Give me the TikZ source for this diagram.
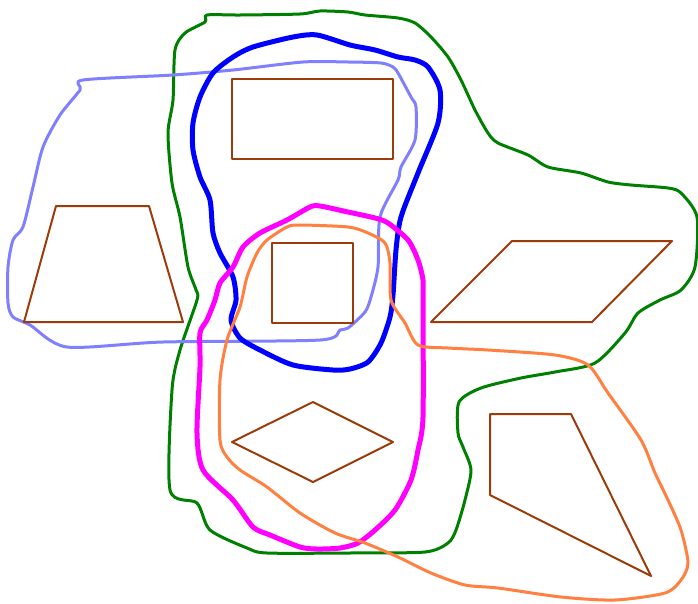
\documentclass[tikz,border=0pt]{standalone}
\definecolor{setgreen}{RGB}{0,128,0}
\definecolor{setblue}{RGB}{0,0,255}
\definecolor{setlight}{RGB}{128,128,255}
\definecolor{setpink}{RGB}{255,0,255}
\definecolor{setorange}{RGB}{255,128,64}
\definecolor{shapebrown}{RGB}{155,60,10}
\begin{document}
\begin{tikzpicture}[x=1pt, y=-1pt, line join=round,
  figure/.style={draw=shapebrown, line width=2pt}]
\useasboundingbox (0,0) rectangle (698,603);
% sets
\draw[setgreen, line width=3pt] plot[smooth cycle, tension=0.45] coordinates {
  (207,15) (240,15) (300,14) (320,11) (348,12) (365,15) (398,18) (415,23) (431,37)
  (448,57) (461,80) (475,110) (488,133) (498,143) (528,155) (548,167) (581,173)
  (608,182) (631,185) (668,188) (681,193) (697,217) (695,267) (681,290) (660,300)
  (638,313) (625,333) (595,363) (555,372) (521,378) (481,388) (459,402) (458,433)
  (463,447) (471,470) (465,500) (456,530) (448,543) (425,552) (348,553) (267,553)
  (247,548) (210,530) (197,503) (170,490) (172,390) (180,350) (197,300) (196,290)
  (188,267) (180,217) (172,183) (168,133) (173,100) (175,50) (185,33) (205,22)};
\draw[setlight, line width=3pt] plot[smooth cycle, tension=0.45] coordinates {
  (83,80) (80,90) (60,115) (43,147) (33,187) (23,227) (13,240) (8,267) (8,303)
  (13,317) (30,325) (67,347) (163,342) (320,340) (340,330) (348,328) (365,312)
  (371,297) (378,267) (380,217) (398,180) (401,167) (415,140) (416,107) (411,97)
  (398,73) (393,67) (381,63) (348,62) (303,62) (233,70) (173,75)};
\draw[setblue, line width=5pt] plot[smooth cycle, tension=0.45] coordinates {
  (350,45) (317,35) (293,37) (253,47) (233,57) (213,73) (200,97) (193,123)
  (193,150) (200,177) (210,200) (213,233) (220,253) (233,277) (236,300)
  (231,320) (240,338) (260,350) (293,365) (333,370) (350,369) (368,362)
  (381,343) (390,317) (393,295) (396,250) (401,217) (418,173) (438,123)
  (440,90) (428,67) (415,60) (398,57) (375,50)};
\draw[setpink, line width=5pt] plot[smooth cycle, tension=0.45] coordinates {
  (220,283) (233,267) (243,247) (260,233) (287,220) (310,207) (320,206)
  (348,212) (375,218) (388,223) (408,240) (418,260) (423,280) (423,300)
  (423,417) (418,450) (411,480) (395,510) (375,530) (358,543) (340,548)
  (317,549) (300,547) (270,535) (253,527) (233,500) (203,470) (197,433)
  (200,367) (200,333) (207,320) (215,300)};
\draw[setorange, line width=3pt] plot[smooth cycle, tension=0.45] coordinates {
  (247,277) (257,253) (267,240) (287,227) (300,225) (348,227) (368,233)
  (385,243) (390,263) (391,300) (405,323) (418,345) (448,348) (488,350)
  (555,355) (588,365) (608,393) (641,440) (655,473) (668,500) (681,530)
  (688,563) (681,580) (665,593) (615,600) (561,597) (498,588) (465,585)
  (431,573) (398,557) (365,543) (335,533) (300,513) (267,487) (240,470)
  (227,457) (220,440) (220,380) (227,340) (240,307)};
% figures
\draw[figure] (232,79) rectangle (393,159);
\draw[figure] (56,206) -- (149,206) -- (183,322) -- (24,322) -- cycle;
\draw[figure] (272,243) rectangle (353,323);
\draw[figure] (512,241) -- (672,241) -- (592,322) -- (431,322) -- cycle;
\draw[figure] (232,442) -- (313,402) -- (393,442) -- (313,482) -- cycle;
\draw[figure] (490,414) -- (571,414) -- (651,576) -- (490,495) -- cycle;
\end{tikzpicture}
\end{document}
